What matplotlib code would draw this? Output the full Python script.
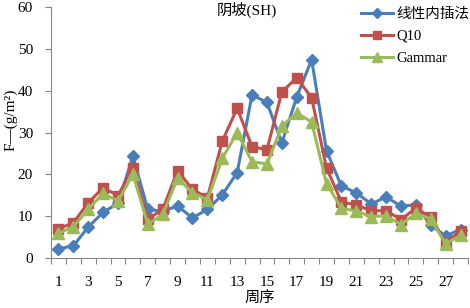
import numpy as np
import matplotlib
matplotlib.use('Agg')
import matplotlib.pyplot as plt

plt.rcParams['font.family'] = ['Liberation Serif', 'Noto Sans CJK SC']

# 周序 1..28
weeks = np.arange(1, 29)
# 线性内插法
linear = [2.2, 2.9, 7.4, 10.9, 13.1, 24.3, 11.6, 11.2, 12.4, 9.6, 11.6, 15.1, 20.4, 39.0,
          37.2, 27.5, 38.5, 47.4, 25.6, 17.2, 15.6, 12.9, 14.6, 12.4, 12.7, 7.8, 5.3, 6.8]
# Q10
q10 = [7.0, 8.4, 13.2, 16.8, 14.9, 21.6, 9.3, 11.6, 20.9, 16.4, 14.4, 27.9, 35.8, 26.6,
       25.9, 39.7, 43.1, 38.3, 21.5, 13.4, 12.7, 11.3, 11.3, 9.2, 11.9, 9.8, 3.7, 6.4]
# Gammar
gammar = [5.9, 7.5, 11.6, 15.5, 13.6, 20.0, 8.1, 10.4, 19.1, 15.6, 13.9, 23.8, 30.0, 23.0,
          22.5, 31.5, 34.7, 32.5, 17.8, 11.9, 11.2, 9.9, 10.1, 8.0, 10.7, 9.3, 3.4, 5.4]

labels = ['线性内插法', 'Q10', 'Gammar']
colors = ['#4A7EBB', '#C0504D', '#9BBB59']
markers = ['D', 's', '^']

fig = plt.figure(figsize=(4.7, 3.08), dpi=100)
ax = fig.add_axes([51/470, 1 - 258/308, (468 - 51)/470, (258 - 7)/308])

for ys, lab, c, m, ms in zip([linear, q10, gammar], labels, colors, markers, [6, 7.5, 8.5]):
    ax.plot(weeks, ys, color=c, marker=m, markersize=ms, linewidth=2.2, label=lab)

ax.set_xlim(0.5, 28.5)
ax.set_ylim(0, 60)
ax.set_yticks(range(0, 61, 10))

# tick marks between categories, labels on odd weeks
ax.set_xticks(np.arange(0.5, 29, 1))
ax.set_xticklabels([])
ax.set_xticks(weeks[::2], minor=True)
ax.set_xticklabels([str(w) for w in weeks[::2]], minor=True)
ax.tick_params(axis='x', which='major', length=4, direction='out', color='#868686')
ax.tick_params(axis='x', which='minor', length=0, pad=13, labelsize=11)
ax.tick_params(axis='y', length=4, color='#868686', pad=9, labelsize=11)

for s in ['top', 'right']:
    ax.spines[s].set_visible(False)
for s in ['left', 'bottom']:
    ax.spines[s].set_color('#868686')

ax.set_ylabel('F—(g/m²)', fontsize=11)
ax.yaxis.set_label_coords(-0.08, 0.55)
ax.set_xlabel('周序', fontsize=11, labelpad=1)
ax.text(0.47, 0.99, '阴坡(SH)', transform=ax.transAxes, fontsize=11,
        ha='center', va='center')

ax.legend(loc='upper right', bbox_to_anchor=(1.035, 1.05), frameon=False,
          fontsize=10.5, handlelength=2.2, handletextpad=0.2, labelspacing=0.6,
          markerscale=0.8)

fig.savefig('out.png', dpi=100)
